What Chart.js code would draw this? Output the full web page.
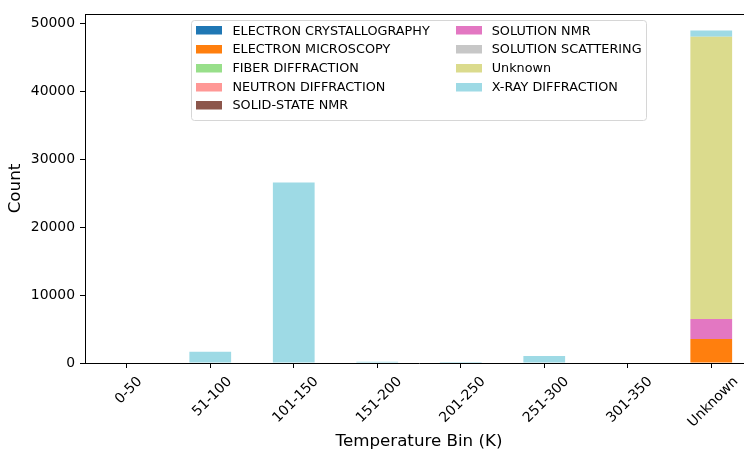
<!DOCTYPE html>
<html>
<head>
<meta charset="utf-8">
<script src="https://cdn.jsdelivr.net/npm/chart.js@4"></script>
<style>
  html, body { margin: 0; padding: 0; background: #fff; overflow: hidden; }
  .chart-wrap { width: 770px; height: 450px; }
</style>
</head>
<body>
<div class="chart-wrap"><canvas id="tempChart"></canvas></div>
<script>
/* ===== Data: counts per temperature bin, by experimental method ===== */
const bins = ['0-50', '51-100', '101-150', '151-200', '201-250', '251-300', '301-350', 'Unknown'];
const electronCrystallography = [0, 0, 0, 0, 0, 0, 0, 0];
const electronMicroscopy      = [0, 0, 0, 0, 0, 0, 0, 3550];
const fiberDiffraction        = [0, 0, 0, 0, 0, 0, 0, 0];
const neutronDiffraction      = [0, 0, 0, 0, 0, 0, 0, 0];
const solidStateNmr           = [0, 0, 0, 0, 0, 0, 0, 0];
const solutionNmr             = [0, 0, 0, 0, 0, 0, 0, 2950];
const solutionScattering      = [0, 0, 0, 0, 0, 0, 0, 0];
const unknownMethod           = [0, 0, 0, 0, 0, 0, 0, 41600];
const xrayDiffraction         = [0, 1650, 26600, 180, 150, 1050, 0, 900];
const yTicks = [0, 10000, 20000, 30000, 40000, 50000];
const yMax = 51450;

const FONT = 'DejaVu Sans';

// tab20 colours as matplotlib samples them for 9 series
const methods = [
  ['ELECTRON CRYSTALLOGRAPHY', electronCrystallography, '#1f77b4'],
  ['ELECTRON MICROSCOPY', electronMicroscopy, '#ff7f0e'],
  ['FIBER DIFFRACTION', fiberDiffraction, '#98df8a'],
  ['NEUTRON DIFFRACTION', neutronDiffraction, '#ff9896'],
  ['SOLID-STATE NMR', solidStateNmr, '#8c564b'],
  ['SOLUTION NMR', solutionNmr, '#e377c2'],
  ['SOLUTION SCATTERING', solutionScattering, '#c7c7c7'],
  ['Unknown', unknownMethod, '#dbdb8d'],
  ['X-RAY DIFFRACTION', xrayDiffraction, '#9edae5']
];

/* ===== Matplotlib-ish extras: top spine, centred rotated x labels, x title, legend ===== */
const mplExtras = {
  id: 'mplExtras',
  afterDraw(chart) {
    const { ctx, chartArea } = chart;
    const xs = chart.scales.x;
    ctx.save();

    // top spine
    ctx.strokeStyle = '#000';
    ctx.lineWidth = 1;
    ctx.beginPath();
    ctx.moveTo(chartArea.left, chartArea.top + 0.5);
    ctx.lineTo(chartArea.right, chartArea.top + 0.5);
    ctx.stroke();

    // x tick labels, rotated 45deg, bbox centred on the tick
    const fs = 13.9;
    ctx.font = fs + 'px "' + FONT + '"';
    ctx.fillStyle = '#000';
    ctx.textAlign = 'center';
    ctx.textBaseline = 'alphabetic';
    const top = chartArea.bottom + 9.7;
    chart.data.labels.forEach((lab, i) => {
      const x = xs.getPixelForTick(i);
      const w = ctx.measureText(lab).width;
      const h = fs * 1.16;
      const cy = top + (w + h) / (2 * Math.SQRT2);
      ctx.save();
      ctx.translate(x + 1, cy);
      ctx.rotate(-Math.PI / 4);
      ctx.fillText(lab, 0, fs * 0.36);
      ctx.restore();
    });

    // x axis title
    ctx.font = '16.7px "' + FONT + '"';
    ctx.fillText('Temperature Bin (K)', (chartArea.left + chartArea.right) / 2, 446);

    // legend, 2 columns, column-major, upper centre
    const lf = 12.8;
    ctx.font = lf + 'px "' + FONT + '"';
    const sets = chart.data.datasets;
    const nrow = Math.ceil(sets.length / 2);
    const cols = [sets.slice(0, nrow), sets.slice(nrow)];
    const patchW = 26, patchH = 8.5, textGap = 10, colGap = 26, pad = 5, pitch = 18.7;
    const colW = cols.map(c => patchW + textGap + Math.max(...c.map(d => ctx.measureText(d.label).width)));
    const boxW = pad * 2 + colW[0] + colGap + colW[1];
    const boxH = pad * 2 + nrow * pitch - 4;
    const bx = (chartArea.left + chartArea.right) / 2 - boxW / 2;
    const by = chartArea.top + 6;

    ctx.beginPath();
    ctx.roundRect(Math.round(bx) + 0.5, by + 0.5, Math.round(boxW), Math.round(boxH), 3);
    ctx.fillStyle = 'rgba(255,255,255,0.8)';
    ctx.fill();
    ctx.strokeStyle = '#d6d6d6';
    ctx.stroke();

    ctx.textAlign = 'left';
    ctx.textBaseline = 'middle';
    cols.forEach((c, ci) => {
      const cx = bx + pad + (ci ? colW[0] + colGap : 0);
      c.forEach((d, ri) => {
        const cy = by + pad + 5.7 + ri * pitch;
        ctx.fillStyle = d.backgroundColor;
        ctx.fillRect(Math.round(cx), Math.round(cy - patchH / 2), patchW, patchH);
        ctx.fillStyle = '#000';
        ctx.fillText(d.label, cx + patchW + textGap, cy + 0.5);
      });
    });

    ctx.restore();
  }
};

const chart = new Chart(document.getElementById('tempChart'), {
  type: 'bar',
  data: {
    labels: bins,
    datasets: methods.map(([label, data, color]) => ({
      label,
      data,
      backgroundColor: color,
      borderWidth: 0,
      categoryPercentage: 1.0,
      barPercentage: 0.5
    }))
  },
  options: {
    responsive: true,
    maintainAspectRatio: false,
    animation: false,
    layout: { padding: { left: 0, right: 17, top: 14, bottom: 0 } },
    plugins: {
      legend: { display: false },
      tooltip: { enabled: false }
    },
    scales: {
      x: {
        stacked: true,
        offset: true,
        border: { display: true, color: '#000', width: 1 },
        grid: { offset: false, drawOnChartArea: false, drawTicks: true, tickLength: 5, color: '#000' },
        ticks: { display: false },
        afterFit: (scale) => { scale.height = 87; }
      },
      y: {
        stacked: true,
        min: 0,
        max: yMax,
        border: { display: true, color: '#000', width: 1 },
        grid: { drawOnChartArea: false, drawTicks: true, tickLength: 5, color: '#000' },
        ticks: {
          includeBounds: false,
          padding: 5,
          color: '#000',
          font: { family: FONT, size: 13.9 },
          callback: (v) => String(v)
        },
        afterBuildTicks: (scale) => { scale.ticks = yTicks.map(v => ({ value: v })); },
        title: {
          display: true,
          text: 'Count',
          color: '#000',
          padding: { top: 6, bottom: 4 },
          font: { family: FONT, size: 16.7 }
        },
        afterFit: (scale) => { scale.width = 85; }
      }
    }
  },
  plugins: [mplExtras]
});
</script>
</body>
</html>
